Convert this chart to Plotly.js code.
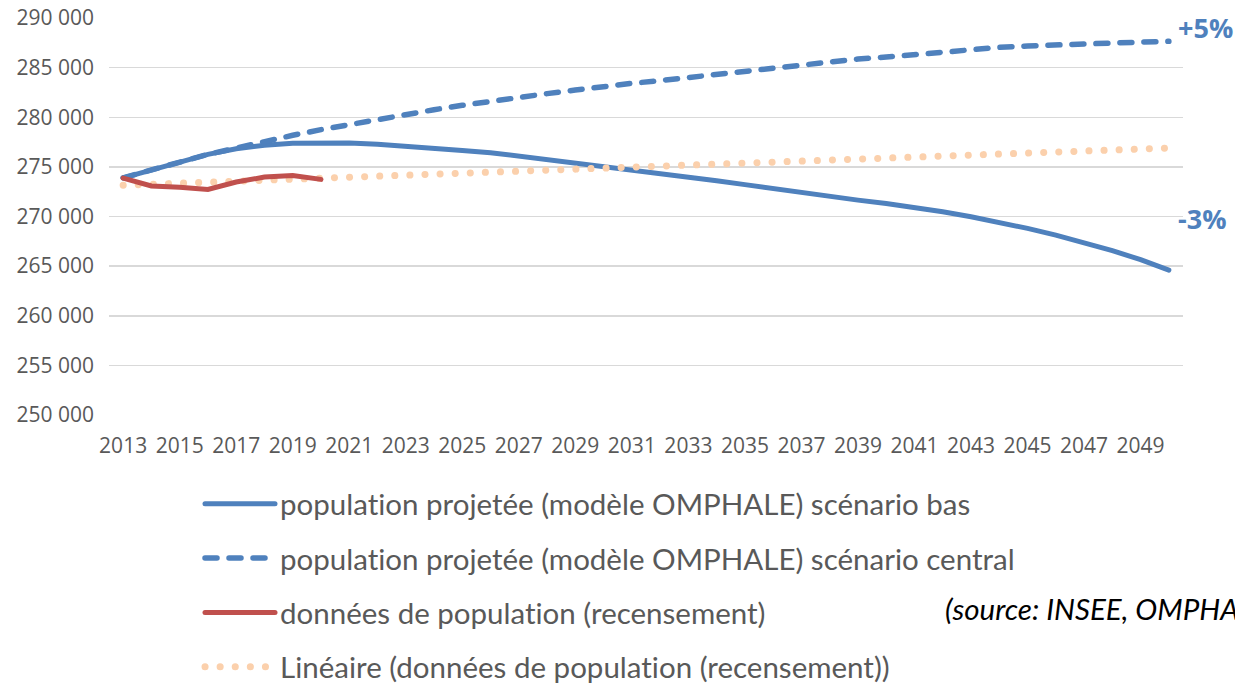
<!DOCTYPE html>
<html>
<head>
<meta charset="utf-8">
<script src="https://cdn.plot.ly/plotly-3.0.1.min.js"></script>
<style>
html,body{margin:0;padding:0;background:#fff;}
#chart{width:1235px;height:683px;}
.js-line{stroke-linecap:round !important;}
text{font-variant-ligatures:none !important;font-feature-settings:"liga" 0,"clig" 0 !important;}
</style>
</head>
<body>
<div id="chart"></div>
<script>
// Years 2013..2050
const years = [2013,2014,2015,2016,2017,2018,2019,2020,2021,2022,2023,2024,2025,2026,2027,2028,2029,2030,2031,2032,2033,2034,2035,2036,2037,2038,2039,2040,2041,2042,2043,2044,2045,2046,2047,2048,2049,2050];

// Scénario bas (solid blue)
const scenarioBas = [273900,274680,275490,276260,276830,277170,277370,277440,277400,277270,277100,276900,276660,276430,276090,275760,275420,275080,274750,274380,274010,273610,273210,272800,272400,271990,271650,271300,270920,270480,269980,269420,268800,268120,267380,266560,265650,264600];

// Scénario central (dashed blue)
const scenarioCentral = [273900,274680,275490,276260,276900,277570,278180,278750,279280,279790,280290,280760,281200,281630,282010,282380,282740,283110,283420,283690,284020,284290,284560,284900,285230,285640,285870,286070,286310,286570,286840,287040,287180,287320,287380,287480,287570,287650];

// Recensement (red)
const recYears = [2013,2014,2015,2016,2017,2018,2019,2020];
const recensement = [273870,273070,272940,272730,273470,273970,274140,273740];

// Linear trend of recensement (read endpoints)
const trendYears = [2013,2050];
const trendValues = [273150,276900];

// Axis tick labels
const xTickYears = [2013,2015,2017,2019,2021,2023,2025,2027,2029,2031,2033,2035,2037,2039,2041,2043,2045,2047,2049];
const yTicks = [250000,255000,260000,265000,270000,275000,280000,285000,290000];

const names = [
  "population projetée (modèle OMPHALE) scénario bas",
  "population projetée (modèle OMPHALE) scénario central",
  "données de population (recensement)",
  "Linéaire (données de population (recensement))"
];

const BLUE = "#4f81bd", RED = "#c0504d", PEACH = "#fbd0ac";

const traces = [
  {x: years, y: scenarioBas, name: names[0], type: "scatter", mode: "lines",
   line: {color: BLUE, width: 5}, legendgroup: "a", legendrank: 1},
  {x: years, y: scenarioCentral, name: names[1], type: "scatter", mode: "lines",
   line: {color: BLUE, width: 5.5, dash: "12px,12px"}, legendgroup: "b", legendrank: 2},
  {x: trendYears, y: trendValues, name: names[3], type: "scatter", mode: "lines",
   line: {color: PEACH, width: 7, dash: "0.1px,15px"}, legendgroup: "d", legendrank: 4},
  {x: recYears, y: recensement, name: names[2], type: "scatter", mode: "lines",
   line: {color: RED, width: 5}, legendgroup: "c", legendrank: 3}
];

const tickFont = {family: "Open Sans, sans-serif", size: 21, color: "#595959"};

const layout = {
  width: 1235, height: 683,
  margin: {l: 109, r: 52, t: 18, b: 268, autoexpand: false},
  paper_bgcolor: "#fff", plot_bgcolor: "#fff",
  separators: ", ",
  showlegend: true,
  legend: {
    x: 200/1235, xref: "container", xanchor: "left",
    y: 1 - 478/683, yref: "container", yanchor: "top",
    orientation: "v", itemwidth: 70, tracegroupgap: 13,
    font: {family: "Lato, sans-serif", size: 29.5, color: "#595959"},
    bgcolor: "rgba(0,0,0,0)"
  },
  xaxis: {
    range: [2012.5, 2050.5], tickmode: "array", tickvals: xTickYears,
    ticktext: xTickYears.map(String), tickangle: 0, showgrid: false, zeroline: false,
    showline: false, ticks: "", tickfont: tickFont, ticklabelstandoff: 16, fixedrange: true
  },
  yaxis: {
    range: [250000, 290000], tickmode: "array", tickvals: yTicks,
    tickformat: ",d", showgrid: true, gridcolor: "#d9d9d9", gridwidth: 1.5,
    zeroline: false, showline: false, ticks: "", tickfont: tickFont, ticklabelstandoff: 14, fixedrange: true
  },
  annotations: [
    {x: 1, xref: "paper", xshift: -7, xanchor: "left", y: 289000, yref: "y", text: "<b>+5%</b>",
     showarrow: false, font: {family: "Open Sans, sans-serif", size: 27, color: BLUE}},
    {x: 1, xref: "paper", xshift: -7, xanchor: "left", y: 269800, yref: "y", text: "<b>-3%</b>",
     showarrow: false, font: {family: "Open Sans, sans-serif", size: 27, color: BLUE}},
    {x: (943 - 109) / 1074, xref: "paper", xanchor: "left", y: (415 - 608) / 397, yref: "paper", yanchor: "middle",
     text: "<i>(source: INSEE, OMPHALE)</i>", showarrow: false,
     font: {family: "Lato, sans-serif", size: 29.5, color: "#000"}}
  ]
};

Plotly.newPlot("chart", traces, layout, {displayModeBar: false, staticPlot: true});
</script>
</body>
</html>
